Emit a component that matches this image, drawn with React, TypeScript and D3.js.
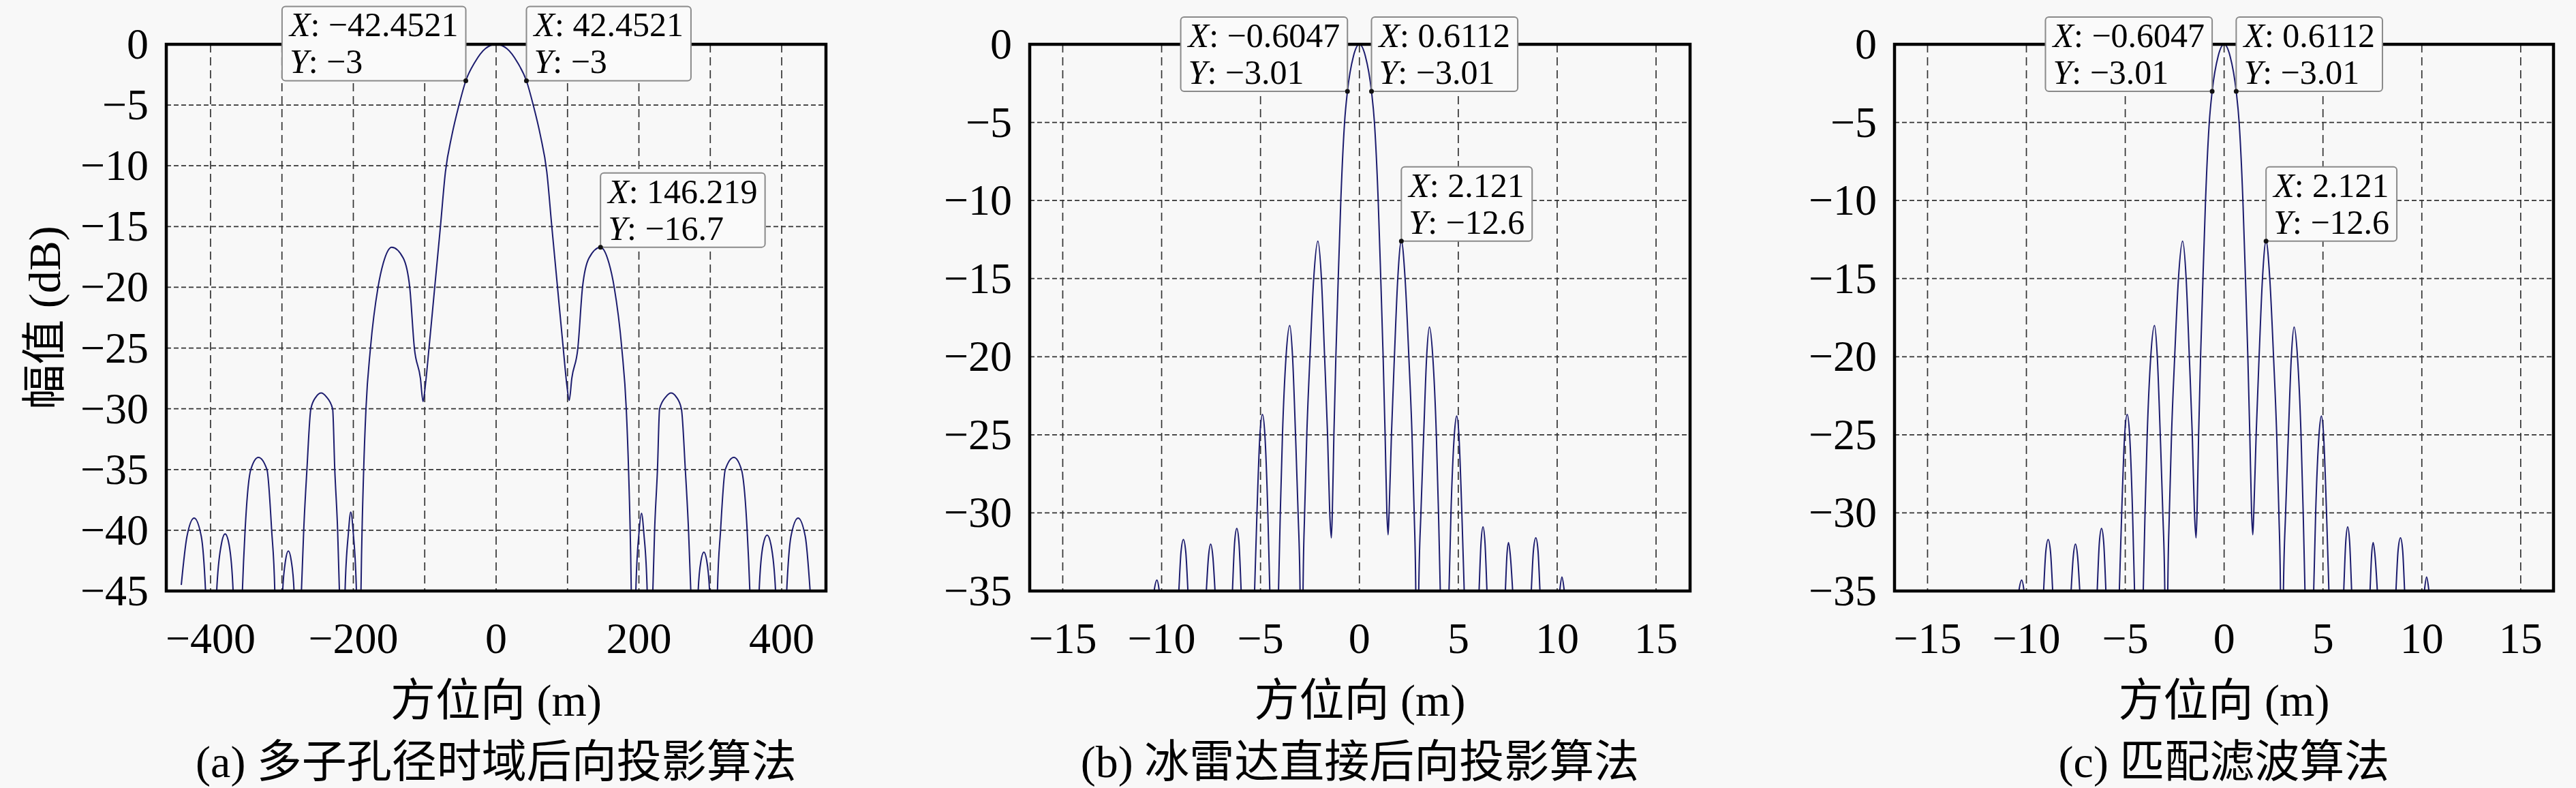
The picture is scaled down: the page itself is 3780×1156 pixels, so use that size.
import React, { useEffect, useRef } from "react";
import * as d3 from "d3";

const W = 3780;
const H = 1156;
const FONT = "Liberation Serif, DejaVu Serif, Noto Sans CJK SC, serif";

// ---------- Panel (a): multi-subaperture time-domain BP ----------
const aAzimuth = [
  -441, -433, -423, -413, -407, -399,
  -391.4, -385, -379.6, -374, -368.4, -362,
  -355.4, -351.6, -343.6, -333, -321, -314.4, -310, -306,
  -299, -295, -291, -287, -283, -279,
  -272.7, -269.5, -265, -259.5, -252, -245, -238, -229, -226, -222, -219.5, -215,
  -211.6, -207, -203.6, -200, -195.7, -192,
  -189.3, -185.5, -182.3, -176, -165.4, -158, -146.2, -130, -121, -114.5, -106, -102.4,
  -99, -94, -86, -78, -71, -62, -52, -42.4521, -30, -15, 0,
  15, 30, 42.4521, 52, 62, 71, 78, 86, 94, 99, 102.4,
  106, 114.5, 121, 130, 146.219, 158, 165.4, 176, 182.3, 185.5, 189.3,
  192, 195.7, 200, 203.6, 207, 211.6, 215,
  219.5, 222, 226, 229, 238, 245, 252, 259.5, 265, 269.5, 272.7,
  279, 283, 287, 291, 295, 299,
  306, 310, 314.4, 321, 333, 343.6, 351.6, 355.4,
  362, 368.4, 374, 379.6, 385, 391.4,
  399, 407, 413, 423, 433, 441,
];
const aAmplitude = [
  -44.5, -40.5, -39.0, -40.5, -45, -60,
  -45, -41.2, -40.3, -41.2, -45, -60,
  -45, -40, -35, -34.0, -35, -40, -45, -60,
  -45, -42.5, -41.7, -42.5, -45, -60,
  -45, -40, -35, -30, -29.0, -28.7, -29.0, -30, -35, -40, -45, -60,
  -45, -40.3, -38.5, -40.3, -45, -60,
  -45, -35, -30, -25, -20, -18, -16.7, -17.6, -20, -25, -27.5, -29.4,
  -28, -25, -20, -15, -10.5, -7.5, -5, -3, -1.5, -0.35, 0,
  -0.35, -1.5, -3, -5, -7.5, -10.5, -15, -20, -25, -28, -29.3,
  -27.5, -25, -20, -17.6, -16.7, -18, -20, -25, -30, -35, -45,
  -60, -45, -40.3, -38.6, -40.3, -45, -60,
  -45, -40, -35, -30, -29.0, -28.7, -29.0, -30, -35, -40, -45,
  -60, -45, -42.5, -41.8, -42.5, -45,
  -60, -45, -40, -35, -34.0, -35, -40, -45,
  -60, -45, -41.2, -40.4, -41.2, -45,
  -60, -45, -40.5, -39.0, -40.5, -46,
];

// ---------- Panel (b): ice radar direct BP ----------
const bAzimuth = [
  -11, -10.38, -10.24, -10.12, -9.6,
  -9.13, -9.02, -8.9, -8.78, -8.67, -8.2,
  -7.74, -7.63, -7.52, -7.41, -7.3, -6.85,
  -6.42, -6.31, -6.2, -6.09, -5.98, -5.65,
  -5.3, -5.18, -5.03, -4.9, -4.78, -4.63, -4.53, -4.3,
  -4.09, -4.0, -3.89, -3.71, -3.52, -3.38, -3.23, -3.1, -3.0, -2.93,
  -2.85, -2.77, -2.66, -2.5, -2.31, -2.1, -1.92, -1.76, -1.61, -1.5, -1.42,
  -1.37, -1.29, -1.19, -1.07, -0.94, -0.75, -0.6047, -0.3, 0,
  0.3, 0.6112, 0.76, 0.95, 1.08, 1.2, 1.3, 1.39, 1.45,
  1.5, 1.62, 1.77, 1.94, 2.121, 2.31, 2.5, 2.66, 2.77, 2.85, 2.93,
  3.0, 3.11, 3.25, 3.4, 3.54, 3.71, 3.89, 4.0, 4.09, 4.3,
  4.53, 4.63, 4.8, 4.92, 5.03, 5.18, 5.3, 5.65,
  6.05, 6.15, 6.25, 6.35, 6.45, 6.9,
  7.38, 7.46, 7.54, 7.63, 7.75, 8.2,
  8.69, 8.8, 8.92, 9.03, 9.13, 9.6,
  10.13, 10.24, 10.36, 11,
];
const bAmplitude = [
  -50, -35, -34.3, -35, -50,
  -35, -32.5, -31.7, -32.5, -35, -50,
  -35, -32.8, -32.0, -32.8, -35, -50,
  -35, -31.9, -31.0, -31.9, -35, -50,
  -35, -30, -25, -23.7, -25, -30, -35, -50,
  -35, -30, -25, -20, -18.0, -20, -25, -30, -35, -50,
  -35, -30, -25, -20, -15, -12.6, -15, -20, -25, -30, -31.6,
  -30, -25, -20, -15, -10, -5, -3.01, -0.75, 0,
  -0.75, -3.01, -5, -10, -15, -20, -25, -30, -31.4,
  -30, -25, -20, -15, -12.6, -15, -20, -25, -30, -35, -50,
  -35, -30, -25, -20, -18.1, -20, -25, -30, -35, -50,
  -35, -30, -25, -23.8, -25, -30, -35, -50,
  -35, -31.9, -30.9, -31.9, -35, -50,
  -35, -32.7, -31.9, -32.7, -35, -50,
  -35, -32.4, -31.6, -32.4, -35, -50,
  -35, -34.1, -35, -50,
];

// ---------- Panel (c): matched filter ----------
const cAzimuth = bAzimuth.slice();
const cAmplitude = bAmplitude.slice();

// ---------- ticks ----------
const aXTicks = [-400, -200, 0, 200, 400];
const aXGrid = [-400, -300, -200, -100, 0, 100, 200, 300, 400];
const aYTicks = [0, -5, -10, -15, -20, -25, -30, -35, -40, -45];
const bXTicks = [-15, -10, -5, 0, 5, 10, 15];
const bYTicks = [0, -5, -10, -15, -20, -25, -30, -35];

// ---------- data tips ----------
const aTipX = [-42.4521, 42.4521, 146.219];
const aTipY = [-3, -3, -16.7];
const aTipXText = ["−42.4521", "42.4521", "146.219"];
const aTipYText = ["−3", "−3", "−16.7"];
const bTipX = [-0.6047, 0.6112, 2.121];
const bTipY = [-3.01, -3.01, -12.6];
const bTipXText = ["−0.6047", "0.6112", "2.121"];
const bTipYText = ["−3.01", "−3.01", "−12.6"];
const tipSide = ["left", "right", "right"];

const xLabel = "方位向 (m)";
const yLabel = "幅值 (dB)";
const captions = ["(a) 多子孔径时域后向投影算法", "(b) 冰雷达直接后向投影算法", "(c) 匹配滤波算法"];

const fmt = (v: number) => (v < 0 ? "−" + Math.abs(v) : String(v));

type Panel = {
  key: string;
  left: number;
  right: number;
  xDomain: [number, number];
  yMin: number;
  xs: number[];
  ys: number[];
  xTicks: number[];
  xGrid: number[];
  yTicks: number[];
  tipX: number[];
  tipY: number[];
  tipXText: string[];
  tipYText: string[];
  caption: string;
  showYLabel: boolean;
};

const TOP = 65;
const BOTTOM = 867;

const panels: Panel[] = [
  {
    key: "a", left: 244, right: 1212, xDomain: [-462, 462], yMin: -45,
    xs: aAzimuth, ys: aAmplitude, xTicks: aXTicks, xGrid: aXGrid, yTicks: aYTicks,
    tipX: aTipX, tipY: aTipY, tipXText: aTipXText, tipYText: aTipYText,
    caption: captions[0], showYLabel: true,
  },
  {
    key: "b", left: 1511, right: 2480, xDomain: [-16.67, 16.72], yMin: -35,
    xs: bAzimuth, ys: bAmplitude, xTicks: bXTicks, xGrid: bXTicks, yTicks: bYTicks,
    tipX: bTipX, tipY: bTipY, tipXText: bTipXText, tipYText: bTipYText,
    caption: captions[1], showYLabel: false,
  },
  {
    key: "c", left: 2780, right: 3747, xDomain: [-16.67, 16.66], yMin: -35,
    xs: cAzimuth, ys: cAmplitude, xTicks: bXTicks, xGrid: bXTicks, yTicks: bYTicks,
    tipX: bTipX, tipY: bTipY, tipXText: bTipXText, tipYText: bTipYText,
    caption: captions[2], showYLabel: false,
  },
];

function drawPanel(svg: d3.Selection<SVGSVGElement, unknown, null, undefined>, p: Panel) {
  const x = d3.scaleLinear().domain(p.xDomain).range([p.left, p.right]);
  const y = d3.scaleLinear().domain([p.yMin, 0]).range([BOTTOM, TOP]);
  const g = svg.append("g");

  // grid
  g.selectAll("line.vg")
    .data(p.xGrid)
    .join("line")
    .attr("x1", (d) => x(d))
    .attr("x2", (d) => x(d))
    .attr("y1", TOP)
    .attr("y2", BOTTOM)
    .attr("stroke", "#333")
    .attr("stroke-width", 1.7)
    .attr("stroke-dasharray", "12,7");
  g.selectAll("line.hg")
    .data(p.yTicks.filter((d) => d !== 0 && d !== p.yMin))
    .join("line")
    .attr("x1", p.left)
    .attr("x2", p.right)
    .attr("y1", (d) => y(d))
    .attr("y2", (d) => y(d))
    .attr("stroke", "#333")
    .attr("stroke-width", 1.7)
    .attr("stroke-dasharray", "7,4");

  // clip
  const clipId = "clip-" + p.key;
  svg
    .append("clipPath")
    .attr("id", clipId)
    .append("rect")
    .attr("x", p.left)
    .attr("y", TOP - 2)
    .attr("width", p.right - p.left)
    .attr("height", BOTTOM - TOP + 2);

  const line = d3
    .line<number>()
    .x((_, i) => x(p.xs[i]))
    .y((d) => y(d))
    .curve(d3.curveMonotoneX);
  g.append("path")
    .datum(p.ys)
    .attr("d", line)
    .attr("clip-path", `url(#${clipId})`)
    .attr("fill", "none")
    .attr("stroke", "#1c1c6e")
    .attr("stroke-width", 2)
    .attr("stroke-linejoin", "round");

  // frame
  g.append("rect")
    .attr("x", p.left)
    .attr("y", TOP)
    .attr("width", p.right - p.left)
    .attr("height", BOTTOM - TOP)
    .attr("fill", "none")
    .attr("stroke", "#000")
    .attr("stroke-width", 4.5);

  // tick labels
  g.selectAll("text.yt")
    .data(p.yTicks)
    .join("text")
    .attr("x", p.left - 26)
    .attr("y", (d) => y(d) + 21)
    .attr("text-anchor", "end")
    .attr("font-family", FONT)
    .attr("font-size", 64)
    .attr("fill", "#000")
    .text((d) => fmt(d));
  g.selectAll("text.xt")
    .data(p.xTicks)
    .join("text")
    .attr("x", (d) => x(d))
    .attr("y", BOTTOM + 91)
    .attr("text-anchor", "middle")
    .attr("font-family", FONT)
    .attr("font-size", 64)
    .attr("fill", "#000")
    .text((d) => fmt(d));

  const cx = (p.left + p.right) / 2;
  g.append("text")
    .attr("x", cx)
    .attr("y", 1050)
    .attr("text-anchor", "middle")
    .attr("font-family", FONT)
    .attr("font-size", 66)
    .text(xLabel);
  g.append("text")
    .attr("x", cx)
    .attr("y", 1140)
    .attr("text-anchor", "middle")
    .attr("font-family", FONT)
    .attr("font-size", 66)
    .text(p.caption);
  if (p.showYLabel) {
    g.append("text")
      .attr("transform", `translate(88,${(TOP + BOTTOM) / 2}) rotate(-90)`)
      .attr("text-anchor", "middle")
      .attr("font-family", FONT)
      .attr("font-size", 66)
      .text(yLabel);
  }

  // data tips
  p.tipX.forEach((tx, i) => {
    const px = x(tx);
    const py = y(p.tipY[i]);
    const tg = g.append("g");
    const rect = tg.append("rect");
    const t1 = tg
      .append("text")
      .attr("font-family", FONT)
      .attr("font-size", 50)
      .attr("fill", "#000");
    t1.append("tspan").attr("font-style", "italic").text("X");
    t1.append("tspan").text(": " + p.tipXText[i]);
    const t2 = tg
      .append("text")
      .attr("font-family", FONT)
      .attr("font-size", 50)
      .attr("fill", "#000");
    t2.append("tspan").attr("font-style", "italic").text("Y");
    t2.append("tspan").text(": " + p.tipYText[i]);
    const w1 = (t1.node() as SVGTextElement).getComputedTextLength();
    const w2 = (t2.node() as SVGTextElement).getComputedTextLength();
    const bw = Math.max(w1, w2) + 22;
    const bh = 109;
    const bx = tipSide[i] === "left" ? px - bw : px;
    const by = py - bh;
    rect
      .attr("x", bx)
      .attr("y", by)
      .attr("width", bw)
      .attr("height", bh)
      .attr("rx", 5)
      .attr("fill", "#fafafa")
      .attr("stroke", "#8a8a8a")
      .attr("stroke-width", 2);
    t1.attr("x", bx + 11).attr("y", by + 44);
    t2.attr("x", bx + 11).attr("y", by + 98);
    tg.append("circle").attr("cx", px).attr("cy", py).attr("r", 3.5).attr("fill", "#111");
  });
}

export default function App() {
  const ref = useRef<SVGSVGElement | null>(null);
  useEffect(() => {
    if (!ref.current) return;
    const svg = d3.select(ref.current);
    svg.selectAll("*").remove();
    svg.append("rect").attr("x", 0).attr("y", 0).attr("width", W).attr("height", H).attr("fill", "#f8f8f8");
    panels.forEach((p) => drawPanel(svg, p));
  }, []);
  return (
    <svg
      ref={ref}
      width={W}
      height={H}
      viewBox={`0 0 ${W} ${H}`}
      style={{ position: "absolute", left: 0, top: 0, display: "block" }}
    />
  );
}
